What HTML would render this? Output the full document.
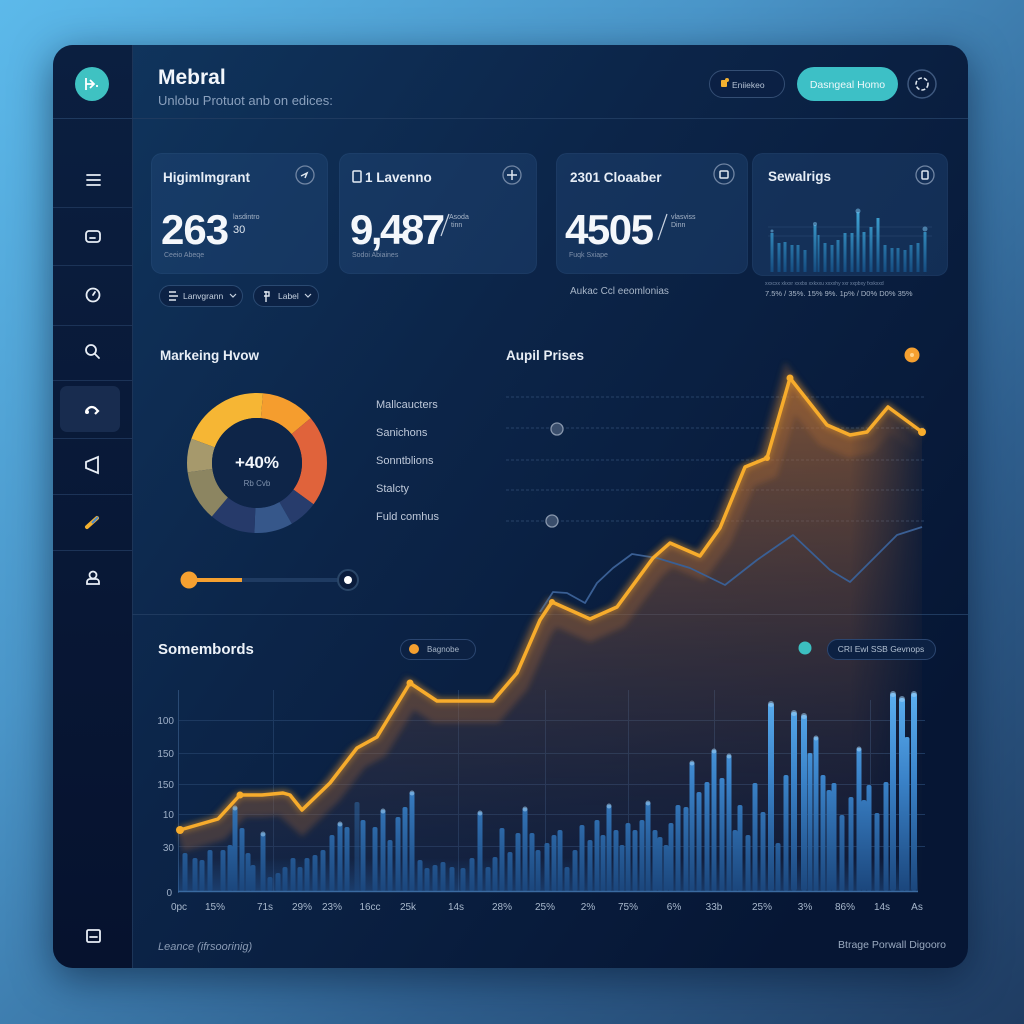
<!DOCTYPE html>
<html><head><meta charset="utf-8">
<style>
html,body{margin:0;padding:0;width:1024px;height:1024px;overflow:hidden;}
body{background:linear-gradient(135deg,#5cb9ea 0%,#4a95c8 35%,#2f5f8e 70%,#1f3c62 100%);font-family:"Liberation Sans",sans-serif;position:relative;}
.panel{position:absolute;left:53px;top:45px;width:915px;height:923px;border-radius:20px;box-shadow:0 10px 40px rgba(5,20,45,0.55);}
svg{position:absolute;left:0;top:0;}
</style></head><body>
<div class="panel"></div>
<svg width="1024" height="1024" viewBox="0 0 1024 1024" font-family="Liberation Sans, sans-serif">
<defs>
  <linearGradient id="pg" x1="0" y1="0" x2="1" y2="0.7">
    <stop offset="0" stop-color="#10365f"/>
    <stop offset="0.45" stop-color="#0c2549"/>
    <stop offset="1" stop-color="#061634"/>
  </linearGradient>
  <linearGradient id="sg" x1="0" y1="0" x2="0" y2="1">
    <stop offset="0" stop-color="#0b1f40"/>
    <stop offset="1" stop-color="#06122e"/>
  </linearGradient>
  <clipPath id="pc"><rect x="53" y="45" width="915" height="923" rx="20"/></clipPath>
  <linearGradient id="bg" gradientUnits="userSpaceOnUse" x1="0" y1="690" x2="0" y2="891">
    <stop offset="0" stop-color="#5cb0f2"/>
    <stop offset="0.45" stop-color="#3a82c8"/>
    <stop offset="1" stop-color="#1b467c"/>
  </linearGradient>
  <linearGradient id="mg" gradientUnits="userSpaceOnUse" x1="0" y1="205" x2="0" y2="272">
    <stop offset="0" stop-color="#45b0e0"/>
    <stop offset="1" stop-color="#154c80"/>
  </linearGradient>
  <linearGradient id="ag" gradientUnits="userSpaceOnUse" x1="0" y1="380" x2="0" y2="891">
    <stop offset="0" stop-color="rgb(190,112,50)" stop-opacity="0.62"/>
    <stop offset="0.45" stop-color="rgb(130,82,58)" stop-opacity="0.42"/>
    <stop offset="1" stop-color="rgb(50,45,70)" stop-opacity="0.18"/>
  </linearGradient>
  <linearGradient id="fadeg" gradientUnits="userSpaceOnUse" x1="850" y1="0" x2="935" y2="0">
    <stop offset="0" stop-color="#fff"/>
    <stop offset="1" stop-color="#000"/>
  </linearGradient>
  <mask id="fm"><rect x="0" y="0" width="1024" height="1024" fill="url(#fadeg)"/></mask>
  <linearGradient id="glowb" x1="0" y1="0" x2="0" y2="1">
    <stop offset="0" stop-color="#2e6eb8" stop-opacity="0"/>
    <stop offset="1" stop-color="#2e6eb8" stop-opacity="0.35"/>
  </linearGradient>
  <filter id="blur" x="-10%" y="-10%" width="120%" height="120%"><feGaussianBlur stdDeviation="3"/></filter>
</defs>

<!-- panel -->
<rect x="53" y="45" width="915" height="923" rx="20" fill="url(#pg)"/>
<g clip-path="url(#pc)">
  <rect x="53" y="45" width="79" height="923" fill="url(#sg)"/>
</g>
<line x1="132.5" y1="45" x2="132.5" y2="968" stroke="#1d3558" stroke-width="1"/>
<g stroke="#1c3357" stroke-width="1">
  <line x1="53" y1="118.5" x2="968" y2="118.5" stroke="#1f3a5f"/>
  <line x1="53" y1="207.5" x2="132" y2="207.5"/>
  <line x1="53" y1="265.5" x2="132" y2="265.5"/>
  <line x1="53" y1="325.5" x2="132" y2="325.5"/>
  <line x1="53" y1="380.5" x2="132" y2="380.5"/>
  <line x1="53" y1="438.5" x2="132" y2="438.5"/>
  <line x1="53" y1="494.5" x2="132" y2="494.5"/>
  <line x1="53" y1="550.5" x2="132" y2="550.5"/>
  <line x1="132" y1="614.5" x2="968" y2="614.5" stroke="#1f3a5f"/>
</g>

<!-- logo -->
<circle cx="92" cy="84" r="17" fill="#3fc2c2"/>
<path d="M86 78 v12 M86 84 h8 M90 80 l4 4 l-4 4 M96 86 h2" stroke="#fff" stroke-width="1.8" fill="none"/>

<!-- sidebar icons -->
<g stroke="#e8eef6" fill="none" stroke-width="1.8" stroke-linecap="round">
  <path d="M87 175 h13 M87 180 h13 M87 185 h13"/>
  <rect x="86" y="231" width="14" height="11" rx="3"/>
  <path d="M90 238 h5"/>
  <circle cx="93" cy="295" r="6.5"/>
  <path d="M93 295 l2 -3"/>
  <circle cx="91" cy="350" r="5"/>
  <path d="M95 354 l4 4"/>
  <path d="M86 468 v-6 l12 -5 v16 z"/>
  <circle cx="93" cy="575" r="3.5"/>
  <path d="M87 584 v-2 a3 3 0 0 1 3 -3 h6 a3 3 0 0 1 3 3 v2 z"/>
  <rect x="87" y="930" width="13" height="12" rx="1.5"/>
  <path d="M90 937 h7"/>
</g>
<rect x="60" y="386" width="60" height="46" rx="7" fill="#182c4f"/>
<path d="M86 411 q4 -6 9 -3 l3 3 l-3 3" stroke="#fff" stroke-width="2.2" fill="none"/>
<circle cx="87" cy="412" r="2" fill="#fff"/>
<path d="M87 527 l10 -9" stroke="#f2b030" stroke-width="4" stroke-linecap="round"/>
<path d="M92 523 l6 -6" stroke="#4a8ad0" stroke-width="2"/>

<!-- header -->
<text x="158" y="84" font-size="21" font-weight="bold" fill="#f2f6fb">Mebral</text>
<text x="158" y="105" font-size="13" fill="#8aa0bd">Unlobu Protuot anb on edices:</text>

<rect x="709.5" y="70.5" width="75" height="27" rx="13.5" fill="#0b2044" stroke="#344e74"/>
<rect x="721" y="80" width="6" height="7" rx="1" fill="#f2b030"/>
<circle cx="727" cy="80" r="2" fill="#f2b030"/>
<text x="732" y="88" font-size="8.5" fill="#b5c2d4">Eniiekeo</text>
<rect x="797" y="67" width="101" height="34" rx="17" fill="#3dc0c6"/>
<text x="847.5" y="88" font-size="10.5" fill="#eef8fa" text-anchor="middle">Dasngeal Homo</text>
<circle cx="922" cy="84" r="14" fill="#0b1f40" stroke="#3e587e" stroke-width="1.5"/>
<circle cx="922" cy="84" r="6" fill="none" stroke="#dfe7f0" stroke-width="1.6" stroke-dasharray="4 2"/>

<!-- cards -->
<g fill="rgba(38,75,125,0.38)" stroke="rgba(70,110,160,0.22)">
  <rect x="151.5" y="153.5" width="176" height="120" rx="10"/>
  <rect x="339.5" y="153.5" width="197" height="120" rx="10"/>
  <rect x="556.5" y="153.5" width="191" height="120" rx="10"/>
  <rect x="752.5" y="153.5" width="195" height="122" rx="10"/>
</g>
<g font-weight="bold" font-size="13.5" fill="#e6edf6">
  <text x="163" y="182">Higimlmgrant</text>
  <text x="365" y="182">1 Lavenno</text>
  <text x="570" y="182">2301 Cloaaber</text>
  <text x="768" y="181">Sewalrigs</text>
</g>
<rect x="353" y="171" width="8" height="11" rx="1" fill="none" stroke="#e6edf6" stroke-width="1.5"/>
<g fill="none" stroke="#7085a3" stroke-width="1.3">
  <circle cx="305" cy="175" r="9"/>
  <circle cx="512" cy="175" r="9"/>
  <circle cx="724" cy="174" r="10"/>
  <circle cx="925" cy="175" r="9"/>
</g>
<g stroke="#dfe7f0" stroke-width="1.5" fill="none">
  <path d="M301 176 l6 -3 l-2 5"/>
  <path d="M512 170 v10 M507 175 h10"/>
  <rect x="720" y="171" width="8" height="7" rx="1"/>
  <rect x="922" y="171" width="6" height="8" rx="1"/>
</g>

<g font-size="42" font-weight="bold" fill="#f4f7fb">
  <text x="161" y="244" letter-spacing="-1">263</text>
  <text x="350" y="244" letter-spacing="-2.5">9,487</text>
  <text x="565" y="244" letter-spacing="-1.5">4505</text>
</g>
<g fill="#a9b6c8" font-size="7">
  <text x="233" y="219">lasdintro</text>
  <text x="449" y="219">Asoda</text>
  <text x="451" y="227">tinn</text>
  <text x="671" y="219">vlasviss</text>
  <text x="671" y="227">Dinn</text>
  <text x="164" y="257" fill="#7e90aa">Ceeio Abeqe</text>
  <text x="352" y="257" fill="#7e90aa">Sodoi Abiaines</text>
  <text x="569" y="257" fill="#7e90aa">Fuqk Sxiape</text>
</g>
<text x="233" y="233" font-size="11" fill="#dfe6ef">30</text>
<path d="M441 236 l8 -22 M658 240 l9 -26" stroke="#c8d2e0" stroke-width="1.2"/>

<!-- dropdown pills -->
<g fill="#0c2245" stroke="#2b4a72">
  <rect x="159.5" y="285.5" width="83" height="21" rx="10.5"/>
  <rect x="253.5" y="285.5" width="65" height="21" rx="10.5"/>
</g>
<path d="M169 292 h7 M169 296 h9 M169 300 h7" stroke="#dfe6ef" stroke-width="1.4"/>
<text x="183" y="299" font-size="8.5" fill="#c7d2e0">Lanvgrann</text>
<path d="M230 294 l3 3 l3 -3 M305 294 l3 3 l3 -3" stroke="#c7d2e0" stroke-width="1.2" fill="none"/>
<path d="M266 291 v11 M264 292 h5 v4 h-5" stroke="#dfe6ef" stroke-width="1.4" fill="none"/>
<text x="278" y="299" font-size="8.5" fill="#c7d2e0">Label</text>
<text x="570" y="294" font-size="10" fill="#a8b6c8">Aukac Ccl eeomlonias</text>

<!-- mini chart -->
<g stroke="#2e4d74" stroke-width="0.8" opacity="0.7">
  <line x1="768" y1="227" x2="932" y2="227"/>
  <line x1="768" y1="236" x2="932" y2="236"/>
</g>
<g fill="url(#mg)">
  <rect x="770.5" y="233" width="3" height="39"/>
  <rect x="777.5" y="243" width="3" height="29"/>
  <rect x="783.5" y="242" width="3" height="30"/>
  <rect x="790.5" y="245" width="3" height="27"/>
  <rect x="796.5" y="245" width="3" height="27"/>
  <rect x="803.5" y="250" width="3" height="22"/>
  <rect x="813.5" y="225" width="3" height="47"/>
  <rect x="817.5" y="235" width="2" height="37"/>
  <rect x="823.5" y="243" width="3" height="29"/>
  <rect x="830.5" y="245" width="3" height="27"/>
  <rect x="836.5" y="240" width="3" height="32"/>
  <rect x="843.5" y="233" width="3" height="39"/>
  <rect x="850.5" y="233" width="3" height="39"/>
  <rect x="856.5" y="212" width="3" height="60"/>
  <rect x="862.5" y="232" width="3" height="40"/>
  <rect x="869.5" y="227" width="3" height="45"/>
  <rect x="876.5" y="218" width="3" height="54"/>
  <rect x="883.5" y="245" width="3" height="27"/>
  <rect x="890.5" y="248" width="3" height="24"/>
  <rect x="896.5" y="248" width="3" height="24"/>
  <rect x="903.5" y="250" width="3" height="22"/>
  <rect x="909.5" y="245" width="3" height="27"/>
  <rect x="916.5" y="243" width="3" height="29"/>
  <rect x="923.5" y="232" width="3" height="40"/>
</g>
<g fill="#6fb4e0" opacity="0.6">
  <circle cx="858" cy="211" r="2.5"/><circle cx="815" cy="224" r="2"/><circle cx="925" cy="229" r="2.5"/><circle cx="772" cy="231" r="1.5"/>
</g>
<text x="765" y="285" font-size="5" fill="#6f84a2">xxxcxx  xkxxr  xxxbs  xxkxxu  xxxxhy xxr  xxpbxy  fxxkxxd</text>
<text x="765" y="296" font-size="7.5" fill="#a9b6c8">7.5%  / 35%.  15%    9%.  1p% / D0%  D0%  35%</text>

<!-- Marketing section -->
<text x="160" y="360" font-size="13.5" font-weight="bold" fill="#e8eef6">Markeing Hvow</text>
<g fill="none" stroke-width="25" transform="rotate(-90 257 463)">
  <circle cx="257" cy="463" r="57.5" stroke="#f6b634" stroke-dasharray="70.25 400" stroke-dashoffset="-291.04"/>
  <circle cx="257" cy="463" r="57.5" stroke="#f6b634" stroke-dasharray="5.02 400" stroke-dashoffset="0"/>
  <circle cx="257" cy="463" r="57.5" stroke="#f59d2e" stroke-dasharray="45.16 400" stroke-dashoffset="-5.02"/>
  <circle cx="257" cy="463" r="57.5" stroke="#e0633b" stroke-dasharray="76.27 400" stroke-dashoffset="-50.18"/>
  <circle cx="257" cy="463" r="57.5" stroke="#273c6c" stroke-dasharray="24.09 400" stroke-dashoffset="-126.45"/>
  <circle cx="257" cy="463" r="57.5" stroke="#36578a" stroke-dasharray="32.11 400" stroke-dashoffset="-150.54"/>
  <circle cx="257" cy="463" r="57.5" stroke="#263a6a" stroke-dasharray="38.14 400" stroke-dashoffset="-182.65"/>
  <circle cx="257" cy="463" r="57.5" stroke="#8c8561" stroke-dasharray="42.15 400" stroke-dashoffset="-220.79"/>
  <circle cx="257" cy="463" r="57.5" stroke="#a6996c" stroke-dasharray="28.10 400" stroke-dashoffset="-262.94"/>
</g>
<circle cx="257" cy="463" r="45" fill="#0e2548"/>
<text x="257" y="468" font-size="17" font-weight="bold" fill="#f2f6fb" text-anchor="middle">+40%</text>
<text x="257" y="486" font-size="8" fill="#7f92ad" text-anchor="middle">Rb Cvb</text>
<g font-size="11" fill="#bfc9da">
  <text x="376" y="408">Mallcaucters</text>
  <text x="376" y="436">Sanichons</text>
  <text x="376" y="464">Sonntblions</text>
  <text x="376" y="492">Stalcty</text>
  <text x="376" y="520">Fuld comhus</text>
</g>
<line x1="189" y1="580" x2="242" y2="580" stroke="#f5a030" stroke-width="4"/>
<line x1="242" y1="580" x2="340" y2="580" stroke="#1f3b62" stroke-width="4"/>
<circle cx="189" cy="580" r="8.5" fill="#f5a030"/>
<circle cx="348" cy="580" r="10" fill="#0a1c3c" stroke="#2a4668" stroke-width="2"/>
<circle cx="348" cy="580" r="4" fill="#fff"/>

<!-- Aupil section -->
<text x="506" y="360" font-size="13.5" font-weight="bold" fill="#e8eef6">Aupil Prises</text>
<circle cx="912" cy="355" r="7.5" fill="#f5a030"/>
<circle cx="912" cy="355" r="2" fill="#ffd38a"/>
<g stroke="#2f4b72" stroke-width="1" stroke-dasharray="3 2" opacity="0.8">
  <line x1="506" y1="397" x2="925" y2="397"/>
  <line x1="506" y1="428" x2="925" y2="428"/>
  <line x1="506" y1="460" x2="925" y2="460"/>
  <line x1="506" y1="490" x2="925" y2="490"/>
  <line x1="506" y1="521" x2="925" y2="521"/>
</g>
<circle cx="557" cy="429" r="6" fill="#3a4e6c" stroke="#8897ad" stroke-width="1.3"/>
<circle cx="552" cy="521" r="6" fill="#3a4e6c" stroke="#8897ad" stroke-width="1.3"/>

<!-- bottom section -->
<text x="158" y="654" font-size="15" font-weight="bold" fill="#eef3f9">Somembords</text>

<!-- grid -->
<g stroke="#1d3960" stroke-width="1">
  <line x1="178" y1="720.5" x2="925" y2="720.5"/>
  <line x1="178" y1="753.5" x2="925" y2="753.5"/>
  <line x1="178" y1="784.5" x2="925" y2="784.5"/>
  <line x1="178" y1="814.5" x2="925" y2="814.5"/>
  <line x1="178" y1="846.5" x2="925" y2="846.5"/>
  <line x1="273.5" y1="690" x2="273.5" y2="891"/>
  <line x1="458.5" y1="690" x2="458.5" y2="891"/>
  <line x1="545.5" y1="690" x2="545.5" y2="891"/>
  <line x1="628.5" y1="690" x2="628.5" y2="891"/>
  <line x1="714.5" y1="690" x2="714.5" y2="891"/>
  <line x1="870.5" y1="700" x2="870.5" y2="891"/>
</g>
<line x1="178.5" y1="690" x2="178.5" y2="893" stroke="#2a4a74"/>
<g font-size="10" fill="#9fb0c8" text-anchor="end">
  <text x="174" y="724">100</text>
  <text x="174" y="757">150</text>
  <text x="174" y="788">150</text>
  <text x="174" y="818">10</text>
  <text x="174" y="851">30</text>
  <text x="172" y="896">0</text>
</g>

<!-- area fill -->
<g mask="url(#fm)">
<polygon fill="url(#ag)" points="180,830 218,819 240,795 262,795 283,793 290,795 302,810 330,783 357,748 377,737 410,683 437,701 493,701 517,673 540,620 552,602 590,619 617,607 653,558 670,543 700,556 720,528 745,467 767,458 790,378 827,425 850,435 867,432 888,407 922,432 922,891 180,891"/>
<polyline fill="none" stroke="rgb(200,120,50)" stroke-opacity="0.25" stroke-width="24" filter="url(#blur)" points="180,840 218,829 240,805 262,805 283,803 302,820 330,793 357,758 377,747 410,693 437,711 493,711 517,683 540,630 552,612 590,629 617,617 653,568 670,553 700,566 720,538 745,477 767,468 790,388 827,435 850,445 867,442 888,417 922,442"/>
</g>

<!-- legend pills on top of fill -->
<rect x="400.5" y="639.5" width="75" height="20" rx="10" fill="#0c2143" stroke="#2b4670"/>
<circle cx="414" cy="649" r="5" fill="#f5a030"/>
<text x="427" y="652" font-size="8" fill="#a8b6c8">Bagnobe</text>
<circle cx="805" cy="648" r="6.5" fill="#3cbfc0"/>
<rect x="827.5" y="639.5" width="108" height="20" rx="10" fill="#0c2143" stroke="#2b4670"/>
<text x="881" y="652" font-size="8.5" fill="#b2c0d2" text-anchor="middle">CRI Ewl SSB Gevnops</text>

<!-- bars -->
<rect x="178" y="858" width="740" height="33" fill="url(#glowb)"/>
<g fill="url(#bg)">
<rect x="182.5" y="853" width="5" height="38" rx="2"/>
<rect x="192.5" y="858" width="5" height="33" rx="2"/>
<rect x="199.5" y="860" width="5" height="31" rx="2"/>
<rect x="207.5" y="850" width="5" height="41" rx="2"/>
<rect x="220.5" y="850" width="5" height="41" rx="2"/>
<rect x="227.5" y="845" width="5" height="46" rx="2"/>
<rect x="232.5" y="807" width="5" height="84" rx="2"/>
<rect x="239.5" y="828" width="5" height="63" rx="2"/>
<rect x="245.5" y="853" width="5" height="38" rx="2"/>
<rect x="250.5" y="865" width="5" height="26" rx="2"/>
<rect x="260.5" y="833" width="5" height="58" rx="2"/>
<rect x="267.5" y="877" width="5" height="14" rx="2"/>
<rect x="275.5" y="873" width="5" height="18" rx="2"/>
<rect x="282.5" y="867" width="5" height="24" rx="2"/>
<rect x="290.5" y="858" width="5" height="33" rx="2"/>
<rect x="297.5" y="867" width="5" height="24" rx="2"/>
<rect x="304.5" y="858" width="5" height="33" rx="2"/>
<rect x="312.5" y="855" width="5" height="36" rx="2"/>
<rect x="320.5" y="850" width="5" height="41" rx="2"/>
<rect x="329.5" y="835" width="5" height="56" rx="2"/>
<rect x="337.5" y="823" width="5" height="68" rx="2"/>
<rect x="344.5" y="827" width="5" height="64" rx="2"/>
<rect x="354.5" y="802" width="5" height="89" rx="2" opacity="0.45"/>
<rect x="360.5" y="820" width="5" height="71" rx="2"/>
<rect x="372.5" y="827" width="5" height="64" rx="2"/>
<rect x="380.5" y="810" width="5" height="81" rx="2"/>
<rect x="387.5" y="840" width="5" height="51" rx="2"/>
<rect x="395.5" y="817" width="5" height="74" rx="2"/>
<rect x="402.5" y="807" width="5" height="84" rx="2"/>
<rect x="409.5" y="792" width="5" height="99" rx="2"/>
<rect x="417.5" y="860" width="5" height="31" rx="2"/>
<rect x="424.5" y="868" width="5" height="23" rx="2"/>
<rect x="432.5" y="865" width="5" height="26" rx="2"/>
<rect x="440.5" y="862" width="5" height="29" rx="2"/>
<rect x="449.5" y="867" width="5" height="24" rx="2"/>
<rect x="460.5" y="868" width="5" height="23" rx="2"/>
<rect x="469.5" y="858" width="5" height="33" rx="2"/>
<rect x="477.5" y="812" width="5" height="79" rx="2"/>
<rect x="485.5" y="867" width="5" height="24" rx="2"/>
<rect x="492.5" y="857" width="5" height="34" rx="2"/>
<rect x="499.5" y="828" width="5" height="63" rx="2"/>
<rect x="507.5" y="852" width="5" height="39" rx="2"/>
<rect x="515.5" y="833" width="5" height="58" rx="2"/>
<rect x="522.5" y="808" width="5" height="83" rx="2"/>
<rect x="529.5" y="833" width="5" height="58" rx="2"/>
<rect x="535.5" y="850" width="5" height="41" rx="2"/>
<rect x="544.5" y="843" width="5" height="48" rx="2"/>
<rect x="551.5" y="835" width="5" height="56" rx="2"/>
<rect x="557.5" y="830" width="5" height="61" rx="2"/>
<rect x="564.5" y="867" width="5" height="24" rx="2"/>
<rect x="572.5" y="850" width="5" height="41" rx="2"/>
<rect x="579.5" y="825" width="5" height="66" rx="2"/>
<rect x="587.5" y="840" width="5" height="51" rx="2"/>
<rect x="594.5" y="820" width="5" height="71" rx="2"/>
<rect x="600.5" y="835" width="5" height="56" rx="2"/>
<rect x="606.5" y="805" width="5" height="86" rx="2"/>
<rect x="613.5" y="830" width="5" height="61" rx="2"/>
<rect x="619.5" y="845" width="5" height="46" rx="2"/>
<rect x="625.5" y="823" width="5" height="68" rx="2"/>
<rect x="632.5" y="830" width="5" height="61" rx="2"/>
<rect x="639.5" y="820" width="5" height="71" rx="2"/>
<rect x="645.5" y="802" width="5" height="89" rx="2"/>
<rect x="652.5" y="830" width="5" height="61" rx="2"/>
<rect x="657.5" y="837" width="5" height="54" rx="2"/>
<rect x="663.5" y="845" width="5" height="46" rx="2"/>
<rect x="668.5" y="823" width="5" height="68" rx="2"/>
<rect x="675.5" y="805" width="5" height="86" rx="2"/>
<rect x="683.5" y="807" width="5" height="84" rx="2"/>
<rect x="689.5" y="762" width="5" height="129" rx="2"/>
<rect x="696.5" y="792" width="5" height="99" rx="2"/>
<rect x="704.5" y="782" width="5" height="109" rx="2"/>
<rect x="711.5" y="750" width="5" height="141" rx="2"/>
<rect x="719.5" y="778" width="5" height="113" rx="2"/>
<rect x="726.5" y="755" width="5" height="136" rx="2"/>
<rect x="732.5" y="830" width="5" height="61" rx="2"/>
<rect x="737.5" y="805" width="5" height="86" rx="2"/>
<rect x="745.5" y="835" width="5" height="56" rx="2"/>
<rect x="752.5" y="783" width="5" height="108" rx="2"/>
<rect x="760.5" y="812" width="5" height="79" rx="2"/>
<rect x="768" y="703" width="6" height="188" rx="2.5"/>
<rect x="775.5" y="843" width="5" height="48" rx="2"/>
<rect x="783.5" y="775" width="5" height="116" rx="2"/>
<rect x="791" y="712" width="6" height="179" rx="2.5"/>
<rect x="801" y="715" width="6" height="176" rx="2.5"/>
<rect x="807.5" y="753" width="5" height="138" rx="2"/>
<rect x="813.5" y="737" width="5" height="154" rx="2"/>
<rect x="820.5" y="775" width="5" height="116" rx="2"/>
<rect x="826.5" y="790" width="5" height="101" rx="2"/>
<rect x="831.5" y="783" width="5" height="108" rx="2"/>
<rect x="839.5" y="815" width="5" height="76" rx="2"/>
<rect x="848.5" y="797" width="5" height="94" rx="2"/>
<rect x="856.5" y="748" width="5" height="143" rx="2"/>
<rect x="861.5" y="800" width="5" height="91" rx="2"/>
<rect x="866.5" y="785" width="5" height="106" rx="2"/>
<rect x="874.5" y="813" width="5" height="78" rx="2"/>
<rect x="883.5" y="782" width="5" height="109" rx="2"/>
<rect x="890" y="693" width="6" height="198" rx="2.5"/>
<rect x="899" y="698" width="6" height="193" rx="2.5"/>
<rect x="904.5" y="737" width="5" height="154" rx="2"/>
<rect x="911" y="693" width="6" height="198" rx="2.5"/>
</g>
<g fill="#9fd0f5" opacity="0.55">
<circle cx="235" cy="808" r="2.5"/><circle cx="263" cy="834" r="2.5"/><circle cx="340" cy="824" r="2.5"/><circle cx="383" cy="811" r="2.5"/><circle cx="412" cy="793" r="2.5"/><circle cx="480" cy="813" r="2.5"/><circle cx="525" cy="809" r="2.5"/><circle cx="609" cy="806" r="2.5"/><circle cx="648" cy="803" r="2.5"/><circle cx="692" cy="763" r="2.5"/><circle cx="714" cy="751" r="2.5"/><circle cx="729" cy="756" r="2.5"/><circle cx="771" cy="704" r="3"/><circle cx="794" cy="713" r="3"/><circle cx="804" cy="716" r="3"/><circle cx="816" cy="738" r="2.5"/><circle cx="859" cy="749" r="2.5"/><circle cx="893" cy="694" r="3"/><circle cx="902" cy="699" r="3"/><circle cx="914" cy="694" r="3"/>
</g>
<line x1="178" y1="891.5" x2="918" y2="891.5" stroke="#3a6aa0" stroke-width="1.5"/>
<g font-size="10" fill="#a8b8cc" text-anchor="middle">
  <text x="179" y="910">0pc</text>
  <text x="215" y="910">15%</text>
  <text x="265" y="910">71s</text>
  <text x="302" y="910">29%</text>
  <text x="332" y="910">23%</text>
  <text x="370" y="910">16cc</text>
  <text x="408" y="910">25k</text>
  <text x="456" y="910">14s</text>
  <text x="502" y="910">28%</text>
  <text x="545" y="910">25%</text>
  <text x="588" y="910">2%</text>
  <text x="628" y="910">75%</text>
  <text x="674" y="910">6%</text>
  <text x="714" y="910">33b</text>
  <text x="762" y="910">25%</text>
  <text x="805" y="910">3%</text>
  <text x="845" y="910">86%</text>
  <text x="882" y="910">14s</text>
  <text x="917" y="910">As</text>
</g>

<!-- lines -->
<polyline fill="none" stroke="#3a5f94" stroke-width="1.8" stroke-linejoin="round" points="540,612 553,592 567,593 585,603 597,583 613,568 632,554 657,558 690,568 725,585 757,560 793,535 830,570 850,582 897,535 922,527"/>
<polyline fill="none" stroke="#f5a623" stroke-width="7" stroke-linejoin="round" opacity="0.35" filter="url(#blur)" points="180,830 218,819 240,795 262,795 283,793 290,795 302,810 330,783 357,748 377,737 410,683 437,701 493,701 517,673 540,620 552,602 590,619 617,607 653,558 670,543 700,556 720,528 745,467 767,458 790,378 827,425 850,435 867,432 888,407 922,432"/>
<polyline fill="none" stroke="#f7ac2c" stroke-width="3.5" stroke-linejoin="round" stroke-linecap="round" points="180,830 218,819 240,795 262,795 283,793 290,795 302,810 330,783 357,748 377,737 410,683 437,701 493,701 517,673 540,620 552,602 590,619 617,607 653,558 670,543 700,556 720,528 745,467 767,458 790,378 827,425 850,435 867,432 888,407 922,432"/>
<g fill="#f7ac2c">
  <circle cx="180" cy="830" r="4"/><circle cx="240" cy="795" r="3.5"/><circle cx="410" cy="683" r="3.5"/><circle cx="790" cy="378" r="3.5"/><circle cx="922" cy="432" r="4"/><circle cx="552" cy="602" r="3"/><circle cx="767" cy="458" r="3"/>
</g>

<!-- footer -->
<text x="158" y="950" font-size="11" font-style="italic" fill="#8a9bb5">Leance (ifrsoorinig)</text>
<text x="946" y="948" font-size="10.5" fill="#9aaac0" text-anchor="end">Btrage Porwall Digooro</text>
</svg>
</body></html>
